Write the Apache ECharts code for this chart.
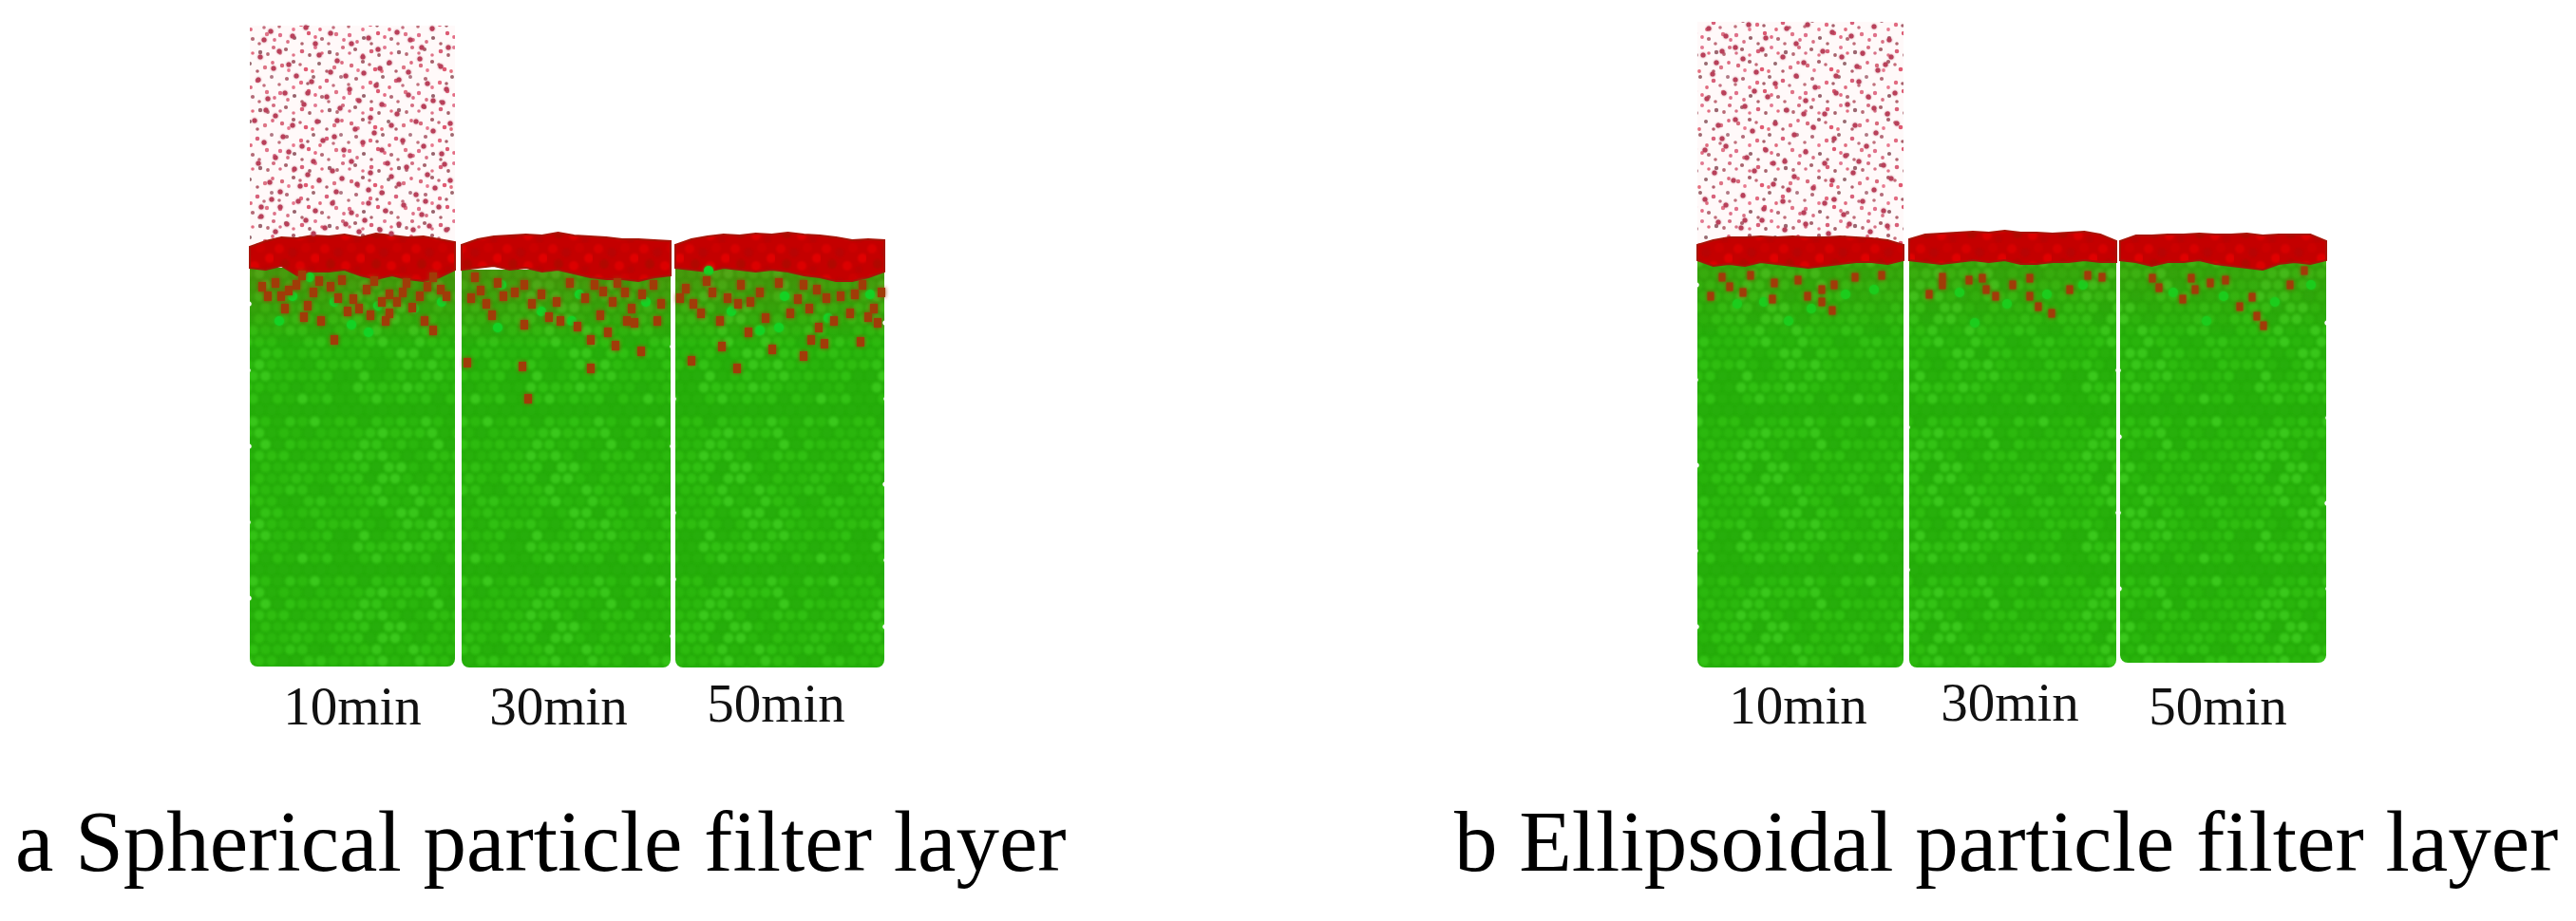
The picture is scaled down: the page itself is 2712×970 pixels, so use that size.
<!DOCTYPE html>
<html lang="en">
<head>
<meta charset="UTF-8">
<title>Particle filter layers</title>
<script src="https://cdn.jsdelivr.net/npm/echarts@6/dist/echarts.min.js"></script>
<style>html,body{margin:0;background:#fff}</style>
</head>
<body>
<div id="main" style="width:2712px;height:970px"></div>
<script>
// x = distance across the panel, y = height above the base line
var times = ['10min', '30min', '50min'];
var captions = ['a Spherical particle filter layer', 'b Ellipsoidal particle filter layer'];

var aLeft = [3, 226, 451], aRight = [219, 446, 671], aBase = [8, 7, 7];
var bLeft = [4, 227, 449], bRight = [221, 445, 666], bBase = [7, 7, 12];

// top of the red layer, left to right across each column
var aSurface = [
  [450, 456, 460, 459, 462, 461, 463, 460, 464, 462, 460, 461, 458, 455],
  [452, 458, 461, 462, 463, 462, 465, 462, 461, 460, 458, 458, 457, 456],
  [452, 458, 461, 463, 462, 464, 463, 465, 463, 462, 460, 457, 458, 457]
];
var bSurface = [
  [452, 457, 460, 460, 461, 460, 461, 460, 460, 461, 460, 459, 457, 452],
  [458, 463, 464, 465, 466, 465, 467, 465, 465, 464, 465, 466, 463, 456],
  [456, 462, 462, 463, 463, 464, 463, 463, 464, 462, 463, 463, 463, 456]
];
// bottom of the red layer
var aRedBottom = [
  [428, 426, 430, 420, 424, 424, 426, 420, 416, 420, 416, 414, 418, 426],
  [426, 428, 430, 426, 428, 424, 426, 422, 418, 416, 416, 414, 418, 420],
  [428, 426, 424, 428, 426, 424, 426, 424, 420, 418, 414, 414, 418, 424]
];
var bRedBottom = [
  [436, 430, 432, 430, 434, 432, 430, 428, 430, 432, 434, 434, 432, 436],
  [436, 434, 432, 434, 436, 434, 436, 432, 432, 434, 434, 436, 434, 434],
  [436, 434, 430, 434, 434, 436, 432, 430, 428, 426, 432, 434, 432, 436]
];
var cloudTop = [683, 687];
// how strongly the fines tint the top of the green layer in each panel
var tint = [0.28, 0.14];

// settled fines inside the green layer
var aFines = [
  [58,420],[52,410],[30,412],[22,398],[70,402],[64,388],[88,408],[100,415],[112,395],[126,405],[118,385],[150,400],[158,392],[150,380],[168,412],[182,398],[196,418],[204,405],[40,385],[78,372],[146,372],[187,372],[92,352],
  [44,404],[76,414],[96,396],[106,382],[134,414],[142,392],[164,402],[174,386],[190,408],[210,398],[16,408],[36,398],[60,376],[130,378],[196,362],
  [240,418],[246,404],[252,390],[258,378],[270,398],[292,410],[300,390],[292,368],[326,392],[330,372],[375,403],[385,392],[372,378],[380,360],[398,402],[405,385],[362,352],[408,370],[432,372],[415,340],[290,324],[232,328],[362,322],[296,290],
  [236,396],[282,402],[310,400],[318,376],[340,412],[356,396],[366,410],[390,412],[400,372],[416,400],[428,410],[436,390],[264,412],[348,366],[388,346],
  [462,406],[470,390],[478,380],[490,402],[520,410],[530,392],[517,390],[546,375],[580,395],[592,385],[600,405],[602,365],[594,352],[625,398],[635,380],[648,410],[660,385],[664,370],[553,342],[516,322],[500,345],[586,335],[646,350],[468,330],
  [456,396],[484,414],[506,396],[540,402],[560,412],[572,380],[586,410],[610,396],[618,372],[640,400],[654,376],[498,372],[528,360],[608,348],[668,402]
];
var bFines = [
  [30,418],[38,408],[18,398],[60,420],[85,412],[83,395],[52,402],[110,415],[135,405],[148,410],[135,392],[146,383],[170,418],[198,420],[120,398],
  [262,418],[262,410],[248,400],[290,415],[304,417],[308,405],[318,398],[336,410],[354,417],[363,387],[377,380],[354,398],[396,405],[415,420],[430,418],
  [483,417],[490,407],[524,417],[528,405],[544,412],[575,387],[588,397],[593,377],[600,367],[628,410],[643,425],[560,415],[515,395]
];
// lighter grains in the upper green layer
var aBright = [[48,398],[66,418],[92,392],[138,388],[34,372],[110,368],[176,385],[205,392],[128,360],[268,410],[310,382],[350,400],[342,372],[420,392],[264,365],[486,425],[510,382],[566,398],[560,365],[612,375],[656,400],[540,362]];
var bBright = [[46,390],[74,392],[124,385],[160,400],[100,372],[190,405],[280,402],[330,390],[372,400],[410,410],[296,370],[505,402],[558,398],[612,392],[650,410],[540,372]];

// larger drifting fines in the cloud above the first column
var aCloud = [
[25,677],[48,672],[62,681],[88,675],[110,664],[138,658],[158,676],[172,668],[195,680],[212,660],[14,650],[34,656],[76,652],[95,646],[122,650],[150,644],[182,648],[204,640],[12,626],[28,638],[52,630],[68,624],[104,630],[123,633],[136,620],[160,626],[190,622],[210,616],
[22,606],[40,612],[60,600],[84,608],[98,596],[118,604],[142,600],[170,610],[186,598],[206,602],[8,583],[30,588],[48,578],[74,582],[95,583],[114,574],[130,586],[152,578],[178,582],[196,572],[214,580],[18,560],[38,566],[58,556],[80,562],[102,552],[122,560],[142,552],[164,562],[186,556],[205,548],
[12,538],[30,544],[50,532],[70,540],[90,530],[110,540],[130,528],[148,538],[168,534],[190,526],[208,537],[24,518],[35,508],[56,514],[76,520],[94,508],[116,516],[142,507],[160,516],[178,505],[198,512],[214,520],
[15,492],[35,492],[54,498],[72,488],[90,496],[110,486],[128,496],[146,488],[165,494],[184,484],[202,492],[15,482],[42,474],[62,478],[82,470],[104,474],[124,478],[140,468],[160,474],[175,468],[192,472],[210,468],[30,466],[70,464],[118,466],[152,464],
[18,668],[72,664],[128,670],[184,660],[44,642],[88,634],[140,638],[170,634],[20,594],[64,612],[108,616],[158,590],[196,604],[44,550],[92,566],[134,570],[172,546],[64,526],[100,522],[152,524],[26,500],[128,510],[188,498]
];
var bCloud = [
[16,680],[34,672],[58,684],[76,670],[98,680],[120,684],[146,676],[166,672],[190,682],[206,668],[10,652],[30,656],[52,648],[72,658],[94,650],[116,644],[136,656],[156,650],[178,654],[202,642],[20,632],[44,626],[66,634],[86,622],[108,630],[128,618],[150,630],[174,624],[194,636],[212,612],
[14,606],[32,612],[54,598],[78,608],[98,594],[118,604],[138,590],[162,600],[184,608],[204,590],[26,578],[44,584],[62,572],[86,580],[106,568],[126,576],[148,564],[170,578],[192,570],[214,580],[12,552],[34,556],[56,544],[76,552],[96,540],[118,550],[138,538],[160,546],[182,556],[200,536],
[22,528],[42,520],[64,530],[84,516],[106,524],[126,512],[146,520],[168,528],[190,510],[208,522],[12,500],[34,494],[52,504],[74,490],[94,498],[116,486],[138,496],[158,484],[178,498],[200,488],[26,476],[50,470],[72,478],[96,468],[118,474],[142,464],[164,474],[186,466],[204,472],
[44,660],[108,664],[172,640],[64,614],[150,612],[30,564],[116,590],[174,540],[54,478],[84,538],[148,500],[24,644],[190,596],[100,510],[208,650]
];
// white notches along the column edges
var aNotches = [
[222,350],[223,300],[222,250],[223,190],[222,120],[223,60],[448,345],[449,290],[448,240],[449,170],[449,100],[448,40],
[2,390],[1,320],[2,240],[1,160],[2,80],[672,370],[673,290],[672,200],[673,120],[672,50]
];
var bNotches = [
[224,330],[225,260],[224,180],[225,110],[224,50],[447,320],[448,250],[447,170],[448,90],
[3,410],[2,310],[3,220],[2,130],[3,50],[667,370],[668,270],[667,180],[668,90]
];

var timeX = [[111, 328, 557], [110, 333, 552]];
var timeY = [[-38, -38, -35], [-37, -34, -38]];

// --- textures for the fills ---
function tile(w, h, bg, dots, blur) {
  var c = document.createElement('canvas');
  c.width = w; c.height = h;
  var g = c.getContext('2d');
  g.fillStyle = bg; g.fillRect(0, 0, w, h);
  g.filter = 'blur(' + blur + 'px)';
  dots.forEach(function (d) {
    g.fillStyle = d[3];
    g.beginPath(); g.arc(d[0], d[1], d[2], 0, Math.PI * 2); g.fill();
  });
  return c;
}
// packed grains; the shade comes from the wrapped row and column so the tile repeats without a seam
function grainDots(shades) {
  var out = [];
  for (var r = -1; r < 15; r++) {
    for (var q = -1; q < 15; q++) {
      var qq = (q + 14) % 14, rr = (r + 14) % 14;
      out.push([q * 13 + (r % 2 ? 6.5 : 0), r * 12, 5.6, shades[(qq * 5 + rr * rr * 3 + qq * rr) % shades.length]]);
    }
  }
  return out;
}
var greenShades = ['#30c012', '#2ab60d', '#38c61a', '#2dbb0f', '#27b00b', '#33c215', '#2cb90e', '#3ac81c', '#29b40c', '#2fbd10', '#26ae0b', '#31bf13', '#2bb80e'];
var greenTile = tile(182, 168, '#24ac09', grainDots(greenShades), 1.5);
var redTile = tile(48, 32, '#c40000', [
  [6,6,5,'#d80000'],[20,10,5,'#b80404'],[34,5,5,'#cc0000'],[44,16,5,'#e00000'],[12,22,5,'#b00800'],[28,24,5,'#dc0000'],[40,28,4,'#bb0202']
], 1);
var cloudTile = tile(73, 61, '#fff9f9', [
  [5,8,2.2,'#d86a7c'],[17,4,2.1,'#a8606c'],[30,12,2.3,'#e05a72'],[44,6,2,'#986a70'],[60,10,2.2,'#de7486'],[10,22,2.1,'#b46a78'],[25,26,2.2,'#e26a80'],[38,20,2,'#a06870'],[52,24,2.3,'#d8607a'],[67,20,2,'#b07884'],
  [3,37,2.2,'#e0708a'],[18,40,2.1,'#98626c'],[33,35,2.2,'#dc5a72'],[47,41,2.1,'#b46a76'],[62,36,2.2,'#e07488'],[9,52,2.1,'#a8646e'],[26,54,2.3,'#d86078'],[40,50,2,'#e27890'],[55,55,2.2,'#9c6670'],[69,50,2.1,'#d46c80'],
  [12,13,1.9,'#e87a90'],[24,7,1.8,'#c46a78'],[37,14,1.9,'#e4707f'],[52,14,1.8,'#b4606e'],[68,5,1.9,'#dd6a80'],[2,28,1.8,'#c0707c'],[17,31,1.9,'#e8788e'],[32,27,1.8,'#a8606c'],[45,31,1.9,'#e06a7e'],[59,29,1.8,'#c47080'],
  [11,44,1.9,'#d87084'],[26,46,1.8,'#b0646e'],[40,39,1.9,'#e46c84'],[54,46,1.8,'#c06c78'],[70,42,1.9,'#dd7088'],[17,58,1.8,'#e07488'],[34,58,1.9,'#a8626c'],[47,56,1.8,'#e26c80'],[63,57,1.9,'#b86a76'],[3,56,1.8,'#d87086']
], 0.7);

function bedSeries(gridIndex, left, right, base, surface, redBottom, top) {
  return {
    type: 'custom', xAxisIndex: gridIndex, yAxisIndex: gridIndex, silent: true, clip: false, z: 1,
    data: times.map(function (t, i) { return [i]; }),
    renderItem: function (params, api) {
      var i = api.value(0), n = surface[i].length;
      var step = (right[i] - left[i]) / (n - 1);
      var topLine = [], redLine = [];
      for (var k = 0; k < n; k++) {
        topLine.push(api.coord([left[i] + k * step, surface[i][k]]));
        redLine.push(api.coord([left[i] + k * step, redBottom[i][k]]));
      }
      var bl = api.coord([left[i], base[i]]), br = api.coord([right[i], base[i]]);
      var kids = [];
      if (i === 0) {
        var c0 = api.coord([left[i], top]), c1 = api.coord([right[i], surface[i][0]]);
        kids.push({ type: 'rect', shape: { x: c0[0], y: c0[1], width: c1[0] - c0[0], height: c1[1] - c0[1] },
          style: { fill: { image: cloudTile, repeat: 'repeat' } } });
      }
      kids.push({ type: 'rect', shape: { x: bl[0], y: redLine[0][1], width: br[0] - bl[0], height: bl[1] - redLine[0][1], r: [0, 0, 8, 8] },
        style: { fill: { image: greenTile, repeat: 'repeat' } } });
      kids.push({ type: 'rect', shape: { x: bl[0], y: redLine[0][1], width: br[0] - bl[0], height: 80 },
        style: { fill: { type: 'linear', x: 0, y: 0, x2: 0, y2: 1, colorStops: [
          { offset: 0, color: 'rgba(150,70,10,' + tint[gridIndex] + ')' }, { offset: 1, color: 'rgba(150,70,10,0)' }] } } });
      kids.push({ type: 'polygon', shape: { points: topLine.concat(redLine.slice().reverse()) },
        style: { fill: { image: redTile, repeat: 'repeat' }, stroke: '#a81408', lineWidth: 2 } });
      return { type: 'group', children: kids };
    }
  };
}
function dots(gridIndex, data, symbol, size, color, z, blur) {
  return { type: 'scatter', xAxisIndex: gridIndex, yAxisIndex: gridIndex, data: data, symbol: symbol,
    symbolSize: size, itemStyle: { color: color, opacity: 1, shadowBlur: blur, shadowColor: color }, silent: true, z: z, clip: false };
}
function timeSeries(gridIndex) {
  return {
    type: 'scatter', xAxisIndex: gridIndex, yAxisIndex: gridIndex, symbolSize: 0, silent: true, z: 5,
    itemStyle: { opacity: 1 },
    data: times.map(function (t, i) { return { name: t, value: [timeX[gridIndex][i], timeY[gridIndex][i]] }; }),
    label: { show: true, position: 'inside', formatter: '{b}', color: '#111',
      fontFamily: 'Liberation Serif', fontSize: 57 }
  };
}
function axis(gridIndex, min, max) { return { type: 'value', gridIndex: gridIndex, min: min, max: max, show: false }; }

var myChart = echarts.init(document.getElementById('main'));
var option = {
  animation: false,
  backgroundColor: '#fff',
  title: [
    { text: captions[0], left: 11, top: 843, textStyle: { fontFamily: 'Liberation Serif', fontWeight: 'normal', fontSize: 91, color: '#000' } },
    { text: captions[1], left: 1526, top: 843, textStyle: { fontFamily: 'Liberation Serif', fontWeight: 'normal', fontSize: 91, color: '#000' } }
  ],
  grid: [
    { left: 260, top: 10, width: 680, height: 770 },
    { left: 1783, top: 10, width: 680, height: 770 }
  ],
  xAxis: [axis(0, 0, 680), axis(1, 0, 680)],
  yAxis: [axis(0, -70, 700), axis(1, -70, 700)],
  series: [
    bedSeries(0, aLeft, aRight, aBase, aSurface, aRedBottom, cloudTop[0]),
    bedSeries(1, bLeft, bRight, bBase, bSurface, bRedBottom, cloudTop[1]),
    dots(0, aCloud, 'circle', 5, '#b8405a', 2, 2),
    dots(1, bCloud, 'circle', 5, '#b8405a', 2, 2),
    dots(0, aBright, 'circle', 10, '#14d224', 3, 3),
    dots(1, bBright, 'circle', 10, '#1ccc1c', 3, 3),
    dots(0, aFines, 'rect', [8, 10], '#a03c08', 3, 4),
    dots(1, bFines, 'rect', [7, 9], '#a03c08', 3, 4),
    dots(0, aNotches, 'circle', 5, '#ffffff', 4, 1),
    dots(1, bNotches, 'circle', 5, '#ffffff', 4, 1),
    timeSeries(0),
    timeSeries(1)
  ]
};
myChart.setOption(option);
</script>
</body>
</html>
